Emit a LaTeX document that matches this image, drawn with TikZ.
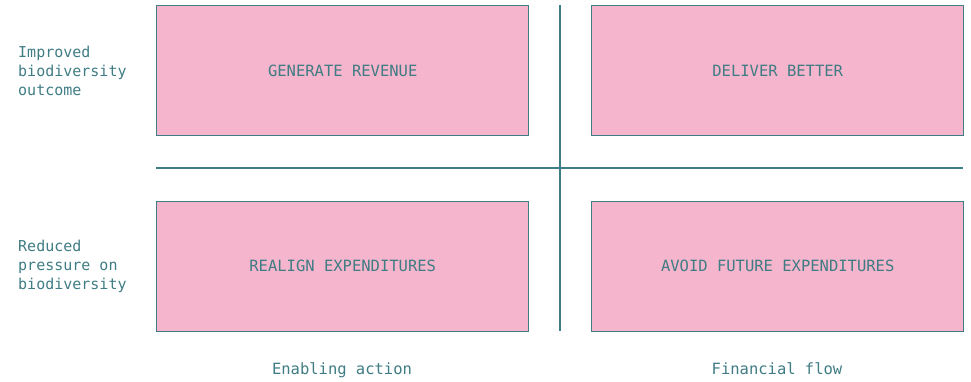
\documentclass[tikz,border=0pt]{standalone}
\usepackage{fontspec}
\setmonofont{DejaVu Sans Mono}
\definecolor{teal1}{HTML}{3F7C84}
\definecolor{pinkbox}{HTML}{F5B5CC}
\begin{document}
\begin{tikzpicture}[x=1pt,y=-1pt,
  quad/.style={draw=teal1,line width=1.4pt,fill=pinkbox,minimum width=372pt,minimum height=130pt,inner sep=0pt,anchor=north west,
    font=\ttfamily\fontsize{15.5}{19}\selectfont,text=teal1},
  lbl/.style={font=\ttfamily\fontsize{15}{19}\selectfont,text=teal1,align=left,anchor=west,inner sep=0pt},
  axis/.style={font=\ttfamily\fontsize{15.5}{19}\selectfont,text=teal1,inner sep=0pt,anchor=base},
  rule/.style={draw=teal1,line width=1.3pt}]
\useasboundingbox (0,0) rectangle (971,382);
\node[quad] (gr) at (156,5) {GENERATE REVENUE};
\node[quad] (db) at (591,5) {DELIVER BETTER};
\node[quad] (re) at (156,200.5) {REALIGN EXPENDITURES};
\node[quad] (af) at (591,200.5) {AVOID FUTURE EXPENDITURES};
\coordinate (vt) at (560,5);
\coordinate (vb) at (560,331);
\coordinate (hl) at (156,168);
\coordinate (hr) at (963,168);
\draw[rule] (vt) -- (vb);
\draw[rule] (hl) -- (hr);
\node[lbl] (l1) at (18,71) {Improved\\biodiversity\\outcome};
\node[lbl] (l2) at (18,266) {Reduced\\pressure on\\biodiversity};
\node[axis] (ea) at (342,374) {Enabling action};
\node[axis] (ff) at (777,374) {Financial flow};
\end{tikzpicture}
\end{document}
